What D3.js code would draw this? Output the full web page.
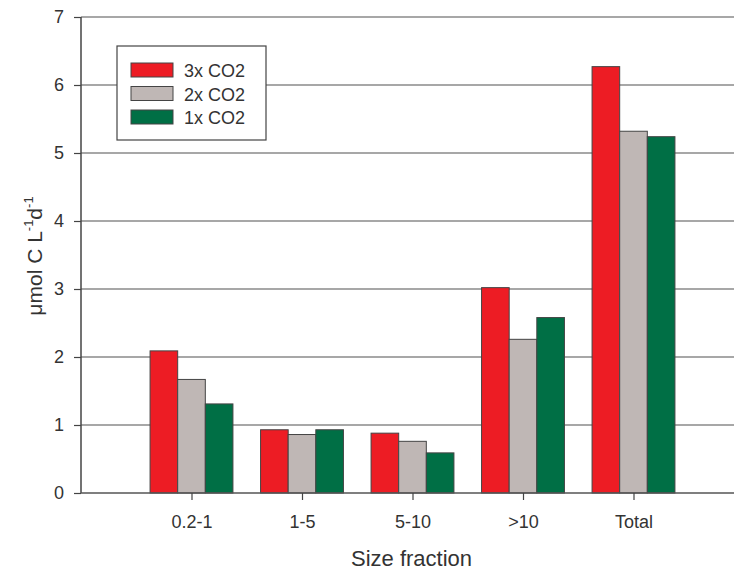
<!DOCTYPE html>
<html>
<head>
<meta charset="utf-8">
<script src="https://cdn.jsdelivr.net/npm/d3@7"></script>
<style>
html,body{margin:0;padding:0;background:#fff;}
svg{display:block;}
text{font-family:"Liberation Sans",Arial,sans-serif;fill:#333;}
</style>
</head>
<body>
<svg id="chart" width="734" height="570"></svg>
<script>
const categories = ["0.2-1", "1-5", "5-10", ">10", "Total"];
const seriesNames = ["3x CO2", "2x CO2", "1x CO2"];
const values3x = [2.09, 0.93, 0.88, 3.02, 6.27];
const values2x = [1.67, 0.86, 0.76, 2.26, 5.32];
const values1x = [1.31, 0.93, 0.59, 2.58, 5.24];
const yTicks = [0, 1, 2, 3, 4, 5, 6, 7];
const colors = ["#ED1C24", "#BFB7B5", "#006F45"];

const series = [values3x, values2x, values1x];
const svg = d3.select("#chart");

const x = d3.scaleLinear().domain([0, 6]).range([81, 744]);
const y = d3.scaleLinear().domain([0, 7]).range([493, 17]);
const step = x(1) - x(0);
const groupW = step * 0.75;
const barW = groupW / 3;

// gridlines
svg.append("g").selectAll("line").data(yTicks.filter(d => d > 0)).join("line")
  .attr("x1", 81).attr("x2", 734)
  .attr("y1", d => y(d)).attr("y2", d => y(d))
  .attr("stroke", "#8a8a8a").attr("stroke-width", 1.5);

// bars
categories.forEach((c, i) => {
  series.forEach((s, j) => {
    const x0 = x(i + 1) - groupW / 2 + j * barW;
    svg.append("rect")
      .attr("x", x0).attr("y", y(s[i]))
      .attr("width", barW).attr("height", y(0) - y(s[i]))
      .attr("fill", colors[j]).attr("stroke", "#444").attr("stroke-width", 1);
  });
});

// y axis
const yAxis = svg.append("g").attr("transform", "translate(81,0)")
  .call(d3.axisLeft(y).tickValues(yTicks).tickSize(7).tickPadding(10).tickFormat(d3.format("d")));
yAxis.select(".domain").attr("stroke", "#444").attr("stroke-width", 1.5).attr("d", "M0," + y(7) + "V" + y(0));
yAxis.selectAll(".tick line").attr("stroke", "#444").attr("stroke-width", 1.2);
yAxis.selectAll(".tick text").style("font-size", "18px").attr("fill", "#333");

// x axis baseline
svg.append("line").attr("x1", 81).attr("x2", 734).attr("y1", y(0)).attr("y2", y(0))
  .attr("stroke", "#555").attr("stroke-width", 1.5);

const xAxis = svg.append("g").attr("transform", "translate(0," + y(0) + ")")
  .call(d3.axisBottom(x).tickValues(d3.range(1, categories.length + 1)).tickSize(7).tickPadding(15)
    .tickFormat(d => categories[d - 1]));
xAxis.select(".domain").remove();
xAxis.selectAll(".tick line").attr("stroke", "#444").attr("stroke-width", 1.2);
xAxis.selectAll(".tick text").style("font-size", "18px").attr("fill", "#333");

// axis titles
svg.append("text").attr("x", 411.5).attr("y", 566).attr("text-anchor", "middle")
  .style("font-size", "22px").text("Size fraction");

const yl = svg.append("text").attr("transform", "translate(42,256) rotate(-90)")
  .attr("text-anchor", "middle").style("font-size", "21px");
yl.append("tspan").text("μmol C L");
yl.append("tspan").attr("dy", -9).style("font-size", "13px").text("-1");
yl.append("tspan").attr("dy", 9).text("d");
yl.append("tspan").attr("dy", -9).style("font-size", "13px").text("-1");

// legend
const lg = svg.append("g");
lg.append("rect").attr("x", 117).attr("y", 46).attr("width", 149).attr("height", 94)
  .attr("fill", "#fff").attr("stroke", "#444").attr("stroke-width", 1.2);
seriesNames.forEach((n, j) => {
  const yy = 63 + j * 23.5;
  lg.append("rect").attr("x", 131).attr("y", yy).attr("width", 42).attr("height", 14)
    .attr("fill", colors[j]).attr("stroke", "#444").attr("stroke-width", 1);
  lg.append("text").attr("x", 184).attr("y", yy + 14).style("font-size", "18px").text(n);
});
</script>
</body>
</html>
